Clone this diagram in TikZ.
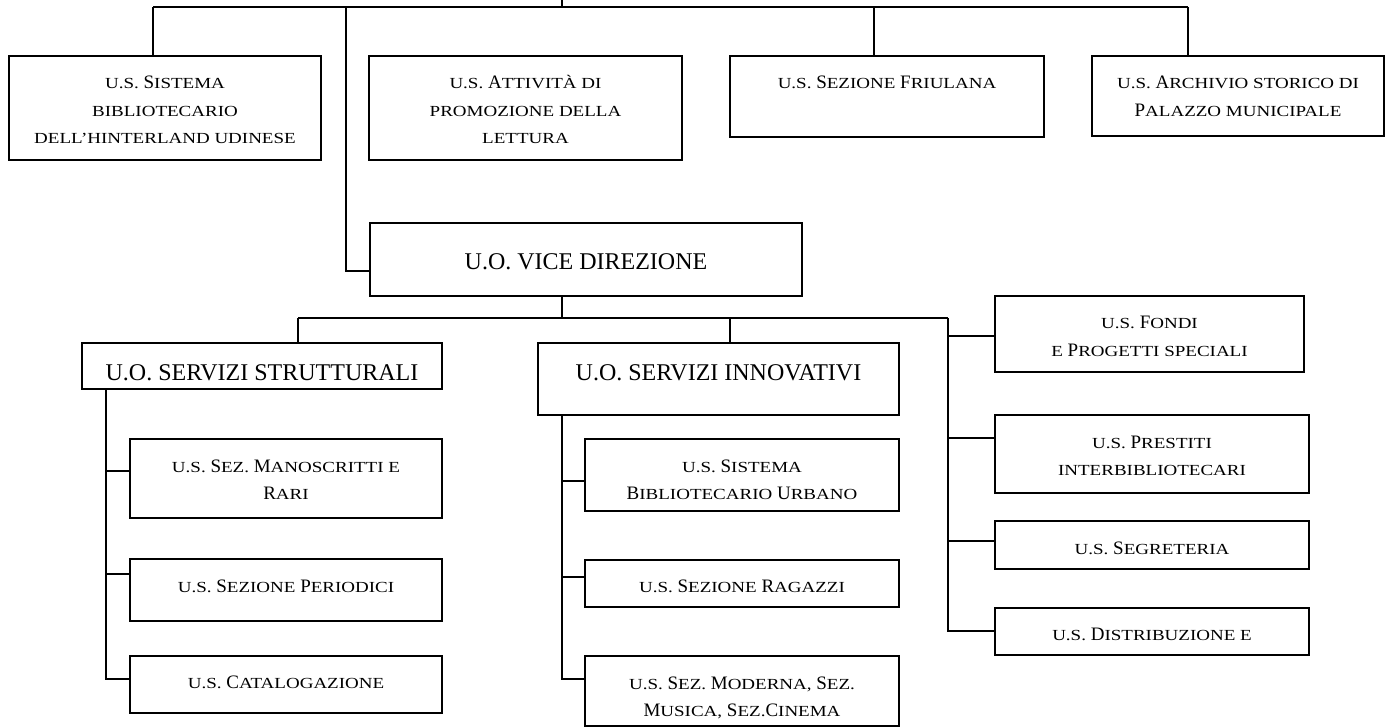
\documentclass[tikz,border=0pt]{standalone}
\usepackage{fontspec}
\setmainfont{Liberation Serif}
\usepackage{graphicx}
\usetikzlibrary{fit}
\newcommand\smc[1]{\scalebox{1}[0.81]{\MakeUppercase{#1}}}
\newcommand\ml[1]{\begin{tabular}[t]{@{}c@{}}#1\end{tabular}}
\tikzset{
  ubox/.style={draw, line width=1.8pt, inner sep=0pt},
  conn/.style={line width=1.8pt},
  txt/.style={inner sep=0pt, anchor=base, font=\fontsize{19}{27.5}\selectfont},
  bigtxt/.style={inner sep=0pt, anchor=base, font=\fontsize{24}{28}\selectfont},
}
\begin{document}
\begin{tikzpicture}[x=1pt,y=-1pt]
\useasboundingbox (0,0) rectangle (1387,727);
% boxes
\node[ubox, fit={(9,56) (321,160)}] (b1) {};
\node[ubox, fit={(369,56) (682,160)}] (b2) {};
\node[ubox, fit={(730,56) (1044,137)}] (b3) {};
\node[ubox, fit={(1092,56) (1384,136)}] (b4) {};
\node[ubox, fit={(370,223) (802,296)}] (vice) {};
\node[ubox, fit={(82,343) (442,389)}] (ss) {};
\node[ubox, fit={(538,343) (899,415)}] (si) {};
\node[ubox, fit={(995,296) (1304,372)}] (fondi) {};
\node[ubox, fit={(995,415) (1309,493)}] (prest) {};
\node[ubox, fit={(995,521) (1309,569)}] (segr) {};
\node[ubox, fit={(995,608) (1309,655)}] (distr) {};
\node[ubox, fit={(130,439) (442,518)}] (ms) {};
\node[ubox, fit={(130,559) (442,621)}] (per) {};
\node[ubox, fit={(130,656) (442,713)}] (cat) {};
\node[ubox, fit={(585,439) (899,511)}] (sbu) {};
\node[ubox, fit={(585,560) (899,607)}] (rag) {};
\node[ubox, fit={(585,656) (899,726)}] (mod) {};
% texts
\node[txt] (b1t) at (b1.north |- 0,89) {\ml{\smc{u.s.} S\smc{istema}\\ \smc{bibliotecario}\\ \smc{dell’hinterland udinese}}};
\node[txt] (b2t) at (b2.north |- 0,89) {\ml{\smc{u.s.} A\smc{ttività di}\\ \smc{promozione della}\\ \smc{lettura}}};
\node[txt] (b3t) at (b3.north |- 0,89) {\smc{u.s.} S\smc{ezione} F\smc{riulana}};
\node[txt] (b4t) at (b4.north |- 0,89) {\ml{\smc{u.s.} A\smc{rchivio storico di}\\ P\smc{alazzo municipale}}};
\node[bigtxt] (vicet) at (vice.north |- 0,270) {U.O. VICE DIREZIONE};
\node[bigtxt] (sst) at (ss.north |- 0,380) {U.O. SERVIZI STRUTTURALI};
\node[bigtxt] (sit) at (si.north |- 0,381) {U.O. SERVIZI INNOVATIVI};
\node[txt] (fondit) at (fondi.north |- 0,329) {\ml{\smc{u.s.} F\smc{ondi}\\ \smc{e} P\smc{rogetti speciali}}};
\node[txt] (prestt) at (prest.north |- 0,448) {\ml{\smc{u.s.} P\smc{restiti}\\ \smc{interbibliotecari}}};
\node[txt] (segrt) at (segr.north |- 0,554) {\smc{u.s.} S\smc{egreteria}};
\node[txt] (distrt) at (distr.north |- 0,640) {\smc{u.s.} D\smc{istribuzione e}};
\node[txt] (mst) at (ms.north |- 0,472) {\ml{\smc{u.s.} S\smc{ez.} M\smc{anoscritti e}\\ R\smc{ari}}};
\node[txt] (pert) at (per.north |- 0,592) {\smc{u.s.} S\smc{ezione} P\smc{eriodici}};
\node[txt] (catt) at (cat.north |- 0,688) {\smc{u.s.} C\smc{atalogazione}};
\node[txt] (sbut) at (sbu.north |- 0,472) {\ml{\smc{u.s.} S\smc{istema}\\ B\smc{ibliotecario} U\smc{rbano}}};
\node[txt] (ragt) at (rag.north |- 0,592) {\smc{u.s.} S\smc{ezione} R\smc{agazzi}};
\node[txt] (modt) at (mod.north |- 0,689) {\ml{\smc{u.s.} S\smc{ez.} M\smc{oderna,} S\smc{ez.}\\ M\smc{usica,} S\smc{ez.}C\smc{inema}}};
% top bus
\coordinate (top) at (562,0);
\coordinate (busL) at (153,7);
\coordinate (busR) at (1188,7);
\coordinate (vv) at (346,7);
\coordinate (fr) at (874,7);
\draw[conn] (busL) -- (busR);
\draw[conn] (top) -- (top |- busL);
\draw[conn] (busL) -- (busL |- b1.north);
\draw[conn] (fr) -- (fr |- b3.north);
\draw[conn] (busR) -- (busR |- b4.north);
\draw[conn] (vv) |- ([yshift=-11.5pt]vice.west);
% second bus
\coordinate (bus2L) at (298,318);
\coordinate (bus2R) at (948,318);
\coordinate (siS) at (730,318);
\draw[conn] (bus2L) -- (bus2R);
\draw[conn] (vice.south -| top) -- (top |- bus2L);
\draw[conn] (bus2L) -- (bus2L |- ss.north);
\draw[conn] (siS) -- (siS |- si.north);
\draw[conn] (bus2R) |- (distr.west |- 0,631);
\draw[conn] (bus2R |- 0,336) -- (fondi.west |- 0,336);
\draw[conn] (bus2R |- 0,438) -- (prest.west |- 0,438);
\draw[conn] (bus2R |- 0,541) -- (segr.west |- 0,541);
% servizi strutturali children
\coordinate (ssv) at (106,400);
\draw[conn] (ss.south -| ssv) |- (cat.west |- 0,679);
\draw[conn] (ssv |- 0,471) -- (ms.west |- 0,471);
\draw[conn] (ssv |- 0,574) -- (per.west |- 0,574);
% servizi innovativi children
\draw[conn] (si.south -| top) |- (mod.west |- 0,679);
\draw[conn] (top |- 0,481) -- (sbu.west |- 0,481);
\draw[conn] (top |- 0,577) -- (rag.west |- 0,577);
\end{tikzpicture}
\end{document}
